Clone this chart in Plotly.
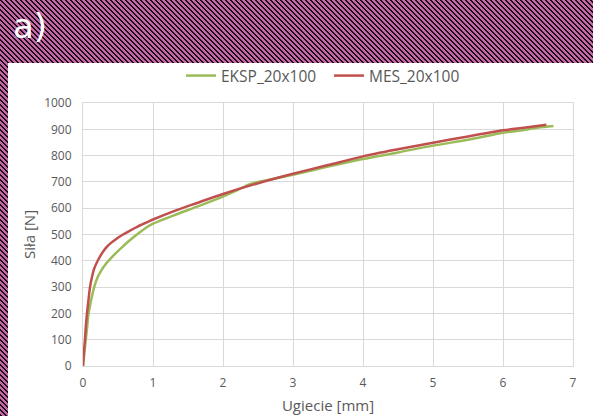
import base64
import plotly.graph_objects as go

# ---- data ----
mes_x = [0, 0.005, 0.015, 0.028, 0.04, 0.057, 0.08, 0.10, 0.13, 0.16, 0.21, 0.27, 0.33, 0.40,
         0.48, 0.56, 0.66, 0.78, 0.90, 1.0, 1.3, 1.62, 2.0, 2.5, 3.0, 3.5, 4.0, 4.5, 5.0,
         5.5, 6.0, 6.3, 6.62]
mes_f = [0, 20, 60, 100, 150, 200, 255, 300, 340, 370, 400, 428, 450, 468,
         484, 498, 513, 530, 545, 557, 589, 619, 654, 695, 731, 764, 797, 824, 849,
         873, 896, 906, 917]

eksp_x = [0, 0.01, 0.02, 0.04, 0.06, 0.08, 0.12, 0.16, 0.21, 0.26, 0.32, 0.40, 0.48, 0.56,
          0.66, 0.77, 0.88, 1.0, 1.3, 1.62, 2.0, 2.2, 2.4, 2.7, 3.0, 3.5, 4.0, 4.5, 5.0,
          5.5, 6.0, 6.3, 6.5, 6.72]
eksp_f = [0, 25, 50, 100, 150, 200, 255, 300, 338, 363, 386, 410, 432, 452,
          476, 500, 522, 541, 573, 605, 644, 668, 693, 710, 727, 758, 787, 812, 838,
          860, 887, 897, 907, 913]

x_ticks = [0, 1, 2, 3, 4, 5, 6, 7]
y_ticks = [0, 100, 200, 300, 400, 500, 600, 700, 800, 900, 1000]

# ---- layout geometry (pixels) ----
W, H = 593, 416
ML, MR, MT, MB = 83, 20, 103, 50
PW, PH = W - ML - MR, H - MT - MB


def px(xp):
    return (xp - ML) / PW


def py(yp):
    return (H - MB - yp) / PH


# staircase diagonal stripe tile (5x5 px), pink with black steps
tile = "<rect width='5' height='5' fill='#c468a8'/>"
for r in range(5):
    for c in (r, r + 1):
        tile += "<rect x='%d' y='%d' width='1' height='1' fill='#1c0c18'/>" % (c % 5, r)
svg = (
    "<svg xmlns='http://www.w3.org/2000/svg' width='593' height='416' viewBox='0 0 593 416' "
    "preserveAspectRatio='none' shape-rendering='crispEdges'><defs><pattern id='p' width='5' height='5' "
    "patternUnits='userSpaceOnUse'>" + tile +
    "</pattern></defs><rect width='593' height='416' fill='url(#p)'/></svg>"
)
src = "data:image/svg+xml;base64," + base64.b64encode(svg.encode()).decode()

grey = "#595959"
font = "Open Sans"

fig = go.Figure()
fig.add_trace(go.Scatter(x=eksp_x, y=eksp_f, mode="lines", name="EKSP_20x100",
                         line=dict(color="#9bbb59", width=2.5, shape="spline", smoothing=0.8)))
fig.add_trace(go.Scatter(x=mes_x, y=mes_f, mode="lines", name="MES_20x100",
                         line=dict(color="#c0504d", width=2.5, shape="spline", smoothing=0.8)))

fig.update_layout(
    width=W, height=H,
    margin=dict(l=ML, r=MR, t=MT, b=MB, autoexpand=False),
    paper_bgcolor="#c468a8",
    plot_bgcolor="rgba(0,0,0,0)",
    font=dict(family=font, color=grey),
    showlegend=True,
    legend=dict(orientation="h", x=px(181), xanchor="left", y=py(76), yanchor="middle",
                font=dict(size=15.5, color=grey), bgcolor="rgba(0,0,0,0)",
                entrywidth=103, tracegroupgap=0),
    images=[dict(source=src, xref="paper", yref="paper", x=px(0), y=py(0),
                 sizex=W / PW, sizey=H / PH, sizing="stretch",
                 xanchor="left", yanchor="top", layer="below")],
    shapes=[dict(type="rect", xref="paper", yref="paper", x0=px(8), x1=px(W + 5),
                 y0=py(H + 5), y1=py(63), fillcolor="white", line=dict(width=0),
                 layer="below")],
    annotations=[dict(text="a)", xref="paper", yref="paper", x=px(11), y=py(26),
                      xanchor="left", yanchor="middle", showarrow=False,
                      font=dict(size=34, color="white", family="DejaVu Sans"))],
    xaxis=dict(range=[0, 7], tickvals=x_ticks, showgrid=True, gridcolor="#d9d9d9",
               gridwidth=1, zeroline=False, showline=True, linecolor="#d9d9d9",
               mirror=True, ticks="", tickfont=dict(size=12, color=grey),
               ticklabelstandoff=6, automargin=False,
               title=dict(text="Ugiecie [mm]", font=dict(size=15, color=grey), standoff=10)),
    yaxis=dict(range=[0, 1000], tickvals=y_ticks, showgrid=True, gridcolor="#d9d9d9",
               gridwidth=1, zeroline=False, showline=True, linecolor="#d9d9d9",
               mirror=True, ticks="", tickfont=dict(size=12, color=grey),
               ticklabelstandoff=8, automargin=False,
               title=dict(text="Siła [N]", font=dict(size=15, color=grey), standoff=4)),
)

fig.write_html("out.html", config={"displayModeBar": False},
               post_script="document.body.style.margin='0';document.body.style.overflow='hidden';")
